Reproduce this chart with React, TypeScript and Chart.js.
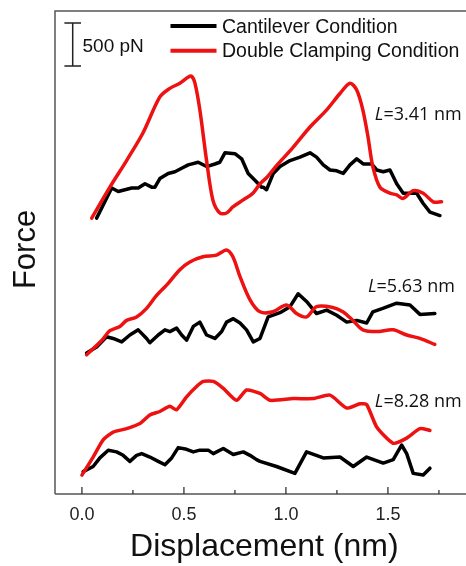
import React, { useEffect, useRef } from "react";
import { Chart, registerables } from "chart.js";
Chart.register(...registerables);

// ---- data (x in nm, y in pN, traces vertically offset) ----
const xMajorTicks = [0, 0.5, 1.0, 1.5];
const xMinorTicks = [0.25, 0.75, 1.25, 1.75];
const seriesNames = ["Cantilever Condition", "Double Clamping Condition"];

const redTopX = [0.048, 0.137, 0.219, 0.299, 0.382, 0.431, 0.48, 0.52, 0.538, 0.554, 0.578, 0.611, 0.642, 0.676, 0.709, 0.74, 0.789, 0.838, 0.873, 0.905, 0.954, 1.034, 1.118, 1.2, 1.265, 1.314, 1.347, 1.377, 1.402, 1.426, 1.461, 1.51, 1.543, 1.575, 1.624, 1.673, 1.722, 1.763];
const redTopY = [3210, 3570, 3880, 4200, 4620, 4720, 4780, 4850, 4860, 4780, 4470, 3880, 3420, 3270, 3270, 3340, 3420, 3500, 3610, 3680, 3820, 4030, 4270, 4470, 4660, 4780, 4700, 4470, 4160, 3810, 3570, 3500, 3480, 3440, 3530, 3500, 3400, 3400];

const blackTopX = [0.072, 0.146, 0.178, 0.211, 0.244, 0.276, 0.309, 0.342, 0.358, 0.382, 0.423, 0.456, 0.489, 0.521, 0.57, 0.611, 0.652, 0.676, 0.701, 0.75, 0.783, 0.815, 0.848, 0.881, 0.889, 0.905, 0.938, 0.971, 1.02, 1.069, 1.118, 1.15, 1.183, 1.216, 1.249, 1.281, 1.314, 1.347, 1.379, 1.42, 1.445, 1.477, 1.51, 1.543, 1.575, 1.608, 1.641, 1.673, 1.706, 1.755];
const blackTopY = [3210, 3560, 3520, 3540, 3560, 3560, 3610, 3570, 3570, 3670, 3730, 3750, 3790, 3830, 3860, 3810, 3840, 3860, 3970, 3960, 3900, 3730, 3650, 3570, 3570, 3540, 3730, 3810, 3880, 3920, 3970, 3920, 3830, 3770, 3760, 3730, 3830, 3900, 3840, 3840, 3770, 3750, 3770, 3610, 3500, 3500, 3500, 3380, 3280, 3240];

const redMidX = [0.023, 0.098, 0.137, 0.186, 0.219, 0.268, 0.317, 0.366, 0.415, 0.48, 0.529, 0.593, 0.66, 0.709, 0.74, 0.775, 0.824, 0.873, 0.936, 1.003, 1.052, 1.101, 1.15, 1.23, 1.279, 1.328, 1.377, 1.445, 1.525, 1.592, 1.657, 1.73];
const redMidY = [1620, 1790, 1900, 1950, 2020, 2060, 2160, 2310, 2430, 2610, 2700, 2760, 2780, 2840, 2760, 2530, 2260, 2120, 2120, 2200, 2100, 2060, 2180, 2170, 2120, 2020, 1910, 1890, 1910, 1850, 1810, 1740];

const blackMidX = [0.023, 0.072, 0.121, 0.153, 0.195, 0.235, 0.276, 0.317, 0.333, 0.374, 0.407, 0.431, 0.464, 0.489, 0.513, 0.546, 0.578, 0.611, 0.652, 0.685, 0.709, 0.742, 0.775, 0.807, 0.84, 0.873, 0.913, 0.971, 1.02, 1.06, 1.101, 1.15, 1.2, 1.249, 1.298, 1.347, 1.396, 1.426, 1.475, 1.543, 1.608, 1.657, 1.73];
const blackMidY = [1640, 1710, 1830, 1810, 1770, 1850, 1910, 1810, 1760, 1850, 1910, 1890, 1930, 1850, 1790, 1950, 2000, 1850, 1810, 1890, 2000, 2040, 1990, 1910, 1770, 1810, 2060, 2110, 2180, 2330, 2240, 2100, 2140, 2080, 2000, 2020, 1990, 2120, 2160, 2220, 2200, 2090, 2100];

const redLowX = [0.0, 0.055, 0.104, 0.153, 0.219, 0.284, 0.333, 0.382, 0.431, 0.464, 0.513, 0.562, 0.595, 0.644, 0.693, 0.758, 0.807, 0.873, 0.922, 1.036, 1.134, 1.216, 1.298, 1.363, 1.396, 1.445, 1.526, 1.592, 1.657, 1.706];
const redLowY = [220, 430, 630, 720, 760, 820, 920, 960, 1020, 980, 1130, 1250, 1310, 1310, 1230, 1090, 1210, 1170, 1090, 1110, 1110, 1150, 1000, 1050, 1040, 780, 590, 650, 760, 740];

const blackLowX = [0.006, 0.055, 0.088, 0.129, 0.17, 0.202, 0.235, 0.268, 0.293, 0.333, 0.374, 0.407, 0.44, 0.472, 0.513, 0.546, 0.578, 0.619, 0.644, 0.693, 0.742, 0.791, 0.824, 0.856, 0.873, 0.954, 1.044, 1.101, 1.183, 1.265, 1.33, 1.396, 1.477, 1.526, 1.567, 1.592, 1.624, 1.673, 1.706];
const blackLowY = [260, 320, 420, 510, 490, 450, 380, 450, 470, 430, 380, 340, 420, 540, 520, 490, 510, 510, 470, 530, 460, 490, 450, 400, 380, 320, 240, 490, 420, 430, 320, 430, 360, 400, 570, 470, 240, 220, 300];

const lengthLabels = ["3.41 nm", "5.63 nm", "8.28 nm"];
const lengthLabelX = [1.436, 1.402, 1.436];
const lengthLabelY = [4350, 2349, 1012];

const scaleBarPN = 500;
const scaleBarBase = 4980;

const X_MIN = -0.132;
const X_MAX = 1.92;
const Y_MIN = 0;
const Y_MAX = 5620;

const RED = "#ee1111";
const BLACK = "#000000";
const FRAME = "#555555";
const SANS = "'Liberation Sans', Arial, sans-serif";

function pts(xs: number[], ys: number[]) {
  return xs.map((x, i) => ({ x, y: ys[i] }));
}

const decorPlugin = {
  id: "decor",
  afterDraw(chart: any) {
    const { ctx, chartArea, scales } = chart;
    const xs = scales.x;
    const ys = scales.y;
    ctx.save();
    // frame
    ctx.strokeStyle = FRAME;
    ctx.lineWidth = 1.5;
    ctx.beginPath();
    ctx.moveTo(chartArea.left, chartArea.bottom);
    ctx.lineTo(chartArea.left, chartArea.top);
    ctx.lineTo(chartArea.right, chartArea.top);
    ctx.lineTo(chartArea.right, chartArea.bottom);
    ctx.lineTo(chartArea.left, chartArea.bottom);
    ctx.stroke();
    // inward ticks
    ctx.strokeStyle = "#333";
    ctx.lineWidth = 1.3;
    for (const v of xMajorTicks) {
      const px = xs.getPixelForValue(v);
      ctx.beginPath();
      ctx.moveTo(px, chartArea.bottom);
      ctx.lineTo(px, chartArea.bottom - 7);
      ctx.stroke();
    }
    for (const v of xMinorTicks) {
      const px = xs.getPixelForValue(v);
      ctx.beginPath();
      ctx.moveTo(px, chartArea.bottom);
      ctx.lineTo(px, chartArea.bottom - 4);
      ctx.stroke();
    }
    // scale bar
    const sbTop = ys.getPixelForValue(scaleBarBase + scaleBarPN);
    const sbBot = ys.getPixelForValue(scaleBarBase);
    const sbX = 72.7;
    ctx.strokeStyle = "#222";
    ctx.lineWidth = 1.5;
    ctx.beginPath();
    ctx.moveTo(sbX, sbTop);
    ctx.lineTo(sbX, sbBot);
    ctx.moveTo(sbX - 8.3, sbTop);
    ctx.lineTo(sbX + 8.3, sbTop);
    ctx.moveTo(sbX - 8.3, sbBot);
    ctx.lineTo(sbX + 8.3, sbBot);
    ctx.stroke();
    ctx.fillStyle = "#111";
    ctx.font = `19px ${SANS}`;
    ctx.textAlign = "left";
    ctx.textBaseline = "alphabetic";
    ctx.fillText(`${scaleBarPN} pN`, 82.5, 52);
    // legend
    const legendColors = [BLACK, RED];
    const legendLineY = [26, 50.7];
    const legendTextY = [33.3, 56.7];
    ctx.lineWidth = 4;
    ctx.lineCap = "butt";
    for (let i = 0; i < 2; i++) {
      ctx.strokeStyle = legendColors[i];
      ctx.beginPath();
      ctx.moveTo(170.5, legendLineY[i]);
      ctx.lineTo(216.5, legendLineY[i]);
      ctx.stroke();
      ctx.fillStyle = "#111";
      ctx.font = `19.5px ${SANS}`;
      ctx.fillText(seriesNames[i], 222, legendTextY[i]);
    }
    // length labels
    for (let i = 0; i < lengthLabels.length; i++) {
      const px = xs.getPixelForValue(lengthLabelX[i]);
      const py = ys.getPixelForValue(lengthLabelY[i]);
      ctx.fillStyle = "#111";
      ctx.font = `italic 18px 'Open Sans', sans-serif`;
      ctx.fillText("L", px, py);
      const w = ctx.measureText("L").width;
      ctx.font = `18px 'Open Sans', sans-serif`;
      ctx.fillText("=" + lengthLabels[i], px + w, py);
    }
    // y-axis title
    ctx.save();
    ctx.translate(26, (chartArea.top + chartArea.bottom) / 2 - 3);
    ctx.rotate(-Math.PI / 2);
    ctx.font = `31px ${SANS}`;
    ctx.fillStyle = "#111";
    ctx.textAlign = "center";
    ctx.textBaseline = "middle";
    ctx.fillText("Force", 0, 0);
    ctx.restore();
    ctx.restore();
  },
};

export default function App() {
  const ref = useRef<HTMLCanvasElement | null>(null);
  useEffect(() => {
    if (!ref.current) return;
    const lineDs = (label: string, data: any[], color: string, tension: number) => ({
      label,
      data,
      borderColor: color,
      backgroundColor: color,
      borderWidth: 3.5,
      pointRadius: 0,
      tension,
      fill: false,
      borderJoinStyle: "round" as const,
      borderCapStyle: "round" as const,
    });
    const chart = new Chart(ref.current, {
      type: "line",
      data: {
        datasets: [
          lineDs(seriesNames[1], pts(redTopX, redTopY), RED, 0.3),
          lineDs(seriesNames[1], pts(redMidX, redMidY), RED, 0.3),
          lineDs(seriesNames[1], pts(redLowX, redLowY), RED, 0.2),
          lineDs(seriesNames[0], pts(blackTopX, blackTopY), BLACK, 0),
          lineDs(seriesNames[0], pts(blackMidX, blackMidY), BLACK, 0),
          lineDs(seriesNames[0], pts(blackLowX, blackLowY), BLACK, 0),
        ],
      },
      options: {
        animation: false,
        responsive: false,
        maintainAspectRatio: false,
        parsing: false as any,
        layout: { padding: { left: 55, top: 11, right: 46.4, bottom: 0 } },
        plugins: { legend: { display: false }, tooltip: { enabled: false } },
        scales: {
          x: {
            type: "linear",
            min: X_MIN,
            max: X_MAX,
            grid: { display: false, drawTicks: false, tickLength: 0 },
            border: { display: false },
            afterBuildTicks: (scale: any) => {
              scale.ticks = xMajorTicks.map((v) => ({ value: v }));
            },
            afterFit: (scale: any) => {
              scale.height = 72;
            },
            ticks: {
              padding: 10,
              color: "#222",
              font: { family: SANS, size: 18 },
              maxRotation: 0,
              autoSkip: false,
              callback: (v: any) => Number(v).toFixed(1),
            },
            title: {
              display: true,
              text: "Displacement (nm)",
              color: "#111",
              font: { family: SANS, size: 32 },
              padding: { top: 4, bottom: 0 },
            },
          },
          y: {
            type: "linear",
            display: false,
            min: Y_MIN,
            max: Y_MAX,
          },
        },
      },
      plugins: [decorPlugin],
    });
    return () => chart.destroy();
  }, []);
  return (
    <div style={{ position: "fixed", left: 0, top: 0, width: 466, height: 566, overflow: "hidden", background: "#fff" }}>
      <canvas ref={ref} width={520} height={566} style={{ width: 520, height: 566, display: "block" }} />
    </div>
  );
}
